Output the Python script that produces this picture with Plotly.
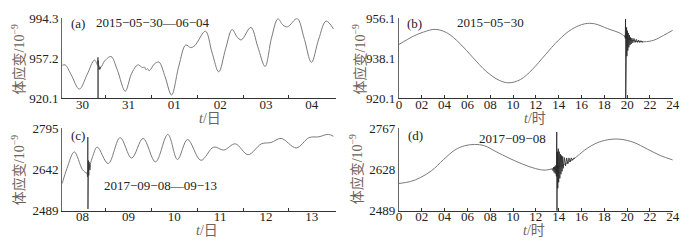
import plotly.graph_objects as go

# ---------------- data ----------------
# (a) 2015-05-30 — 06-04, x in days since 2015-05-30 00:00
a_day = [0.055, 0.12, 0.25, 0.43, 0.60, 0.76, 0.84, 0.90, 0.98, 1.12, 1.26, 1.43, 1.56, 1.67,
         1.72, 1.77, 1.81, 1.85, 1.88, 1.92, 1.95, 1.99, 2.03, 2.10, 2.17, 2.30, 2.44, 2.60,
         2.75, 2.86, 2.95, 3.18, 3.32, 3.47, 3.62, 3.76, 3.87, 3.96, 4.17, 4.32, 4.48, 4.62,
         4.76, 4.87, 4.97, 5.18, 5.33, 5.49, 5.65, 5.81, 5.97]
a_val = [950.5, 951.0, 942.0, 928.5, 942.0, 955.5, 950.0, 949.0, 954.5, 958.8, 946.0, 926.5, 942.0, 950.0,
         951.0, 949.5, 948.5, 949.0, 946.5, 947.5, 945.5, 947.0, 950.0, 953.0, 953.5, 940.0, 923.0, 950.0,
         969.5, 967.0, 969.0, 982.3, 963.0, 944.5, 966.0, 983.8, 977.0, 974.2, 985.8, 968.0, 949.5, 976.0,
         993.8, 988.0, 986.4, 994.0, 976.0, 953.3, 975.0, 991.7, 984.4]
a_qday = [0.832, 0.836, 0.838, 0.840, 0.842, 0.845, 0.850, 0.855, 0.860, 0.870, 0.880, 0.890, 0.900]
a_qval = [951.5, 958.0, 920.1, 955.0, 944.0, 951.0, 945.0, 949.0, 946.5, 948.5, 947.0, 948.8, 949.0]
a_ticks = ["30", "31", "01", "02", "03", "04"]

# (b) 2015-05-30, x in hours
b_hour = [0.0, 1.3, 2.16, 3.17, 4.18, 5.33, 6.48, 7.64, 8.79, 9.65, 10.66, 11.67, 12.82, 13.98,
          15.13, 16.28, 17.15, 18.3, 19.45, 19.88, 20.5, 21.47, 22.33, 23.2, 24.0]
b_val = [944.3, 948.1, 949.9, 951.1, 949.6, 944.8, 938.4, 932.2, 928.1, 927.0, 928.5, 932.9, 939.6, 946.2,
         951.1, 953.6, 953.6, 951.4, 949.2, 947.5, 946.0, 945.5, 946.2, 948.4, 950.7]
b_qhour = [19.80, 19.84, 19.86, 19.875, 19.89, 19.92, 19.95, 19.98, 20.02, 20.06, 20.10, 20.15, 20.20,
           20.25, 20.30, 20.35, 20.42, 20.50, 20.60, 20.70, 20.80, 20.90, 21.00, 21.10, 21.20, 21.30, 21.40]
b_qval = [948.5, 947.0, 955.8, 920.1, 953.5, 936.0, 952.0, 939.0, 950.5, 941.5, 949.5, 943.0, 948.5,
          944.0, 947.5, 944.5, 947.2, 945.0, 947.0, 945.2, 946.6, 945.2, 946.3, 945.2, 946.0, 945.3, 945.6]
b_ticks = ["0", "02", "04", "06", "08", "10", "12", "14", "16", "18", "20", "22", "24"]

# (c) 2017-09-08 — 09-13, x in days since 2017-09-08 00:00
c_day = [0.055, 0.16, 0.32, 0.50, 0.59, 0.62, 0.72, 0.82, 1.06, 1.32, 1.57, 1.82, 2.09, 2.36, 2.57,
         2.79, 3.08, 3.36, 3.58, 3.83, 4.11, 4.40, 4.61, 4.83, 5.16, 5.44, 5.65, 5.86, 5.97]
c_val = [2590, 2646, 2707, 2641, 2629, 2635, 2690, 2725, 2664, 2760, 2684, 2757, 2670, 2772, 2679,
         2753, 2676, 2725, 2714, 2737, 2697, 2737, 2742, 2757, 2722, 2760, 2763, 2772, 2765]
c_qday = [0.600, 0.610, 0.615, 0.618, 0.622, 0.626, 0.630, 0.635, 0.640, 0.645, 0.650, 0.660, 0.670]
c_qval = [2630, 2615, 2762, 2496, 2680, 2612, 2675, 2620, 2670, 2630, 2665, 2640, 2660]
c_ticks = ["08", "09", "10", "11", "12", "13"]

# (d) 2017-09-08, x in hours
d_hour = [0.0, 1.0, 1.87, 2.88, 3.89, 4.9, 5.76, 6.63, 7.49, 8.5, 9.65, 10.81, 11.96, 12.82, 13.4,
          13.83, 14.5, 15.42, 16.28, 17.44, 18.59, 19.45, 20.6, 21.76, 22.91, 24.0]
d_val = [2580.9, 2587.5, 2600.6, 2624.6, 2660.7, 2693.5, 2707.9, 2712.2, 2707.9, 2688.2, 2666.2, 2646.5,
         2631.1, 2625.9, 2630.1, 2635, 2645, 2666.2, 2693.5, 2718.8, 2729.6, 2729.6, 2718.8, 2696.8,
         2675.1, 2660]
d_qhour = [13.40, 13.50, 13.55, 13.60, 13.65, 13.70, 13.75, 13.80, 13.83, 13.85, 13.88, 13.92, 13.96,
           14.00, 14.05, 14.10, 14.15, 14.20, 14.25, 14.30, 14.35, 14.40, 14.50, 14.60, 14.70, 14.80,
           14.90, 15.00, 15.10, 15.20, 15.30, 15.42]
d_qval = [2630, 2624, 2636, 2618, 2638, 2614, 2642, 2605, 2754, 2489, 2688, 2565, 2698,
          2585, 2688, 2598, 2680, 2612, 2675, 2622, 2672, 2632, 2668, 2640, 2667, 2647,
          2667, 2653, 2667, 2659, 2666, 2666]

# y ranges (min, max) per panel
a_range = [920.1, 994.3]
b_range = [920.1, 956.1]
c_range = [2489, 2795]
d_range = [2489, 2767]

# ---------------- figure ----------------
W, H = 699, 247
SERIF = "Liberation Serif, Times New Roman, Noto Sans CJK SC, serif"
GRAY = "#7a7a7a"
TXT = "#222222"
TITLE = "#6e6259"

fig = go.Figure()

def add(x, y, xa, ya, color, width, shape):
    fig.add_trace(go.Scatter(x=x, y=y, mode="lines", xaxis=xa, yaxis=ya,
                             line=dict(color=color, width=width, shape=shape,
                                       smoothing=1.0 if shape == "spline" else None),
                             showlegend=False, hoverinfo="skip"))

add(a_day, a_val, "x", "y", GRAY, 1, "spline")
add(a_qday, a_qval, "x", "y", "#333333", 0.8, "linear")
add(b_hour, b_val, "x2", "y2", GRAY, 1, "spline")
add(b_qhour, b_qval, "x2", "y2", "#222222", 0.8, "linear")
add(c_day, c_val, "x3", "y3", GRAY, 1, "spline")
add(c_qday, c_qval, "x3", "y3", "#333333", 0.8, "linear")
add(d_hour, d_val, "x4", "y4", GRAY, 1, "spline")
add(d_qhour, d_qval, "x4", "y4", "#222222", 0.8, "linear")

def px_dom(p0, p1, total):
    return [p0 / total, p1 / total]

def ydom(top, bottom):
    return [1 - bottom / H, 1 - top / H]

xl_dom = px_dom(60, 338, W)
xr_dom = px_dom(401.7, 679.5, W)
yt_dom = ydom(12, 97)
yb_dom = ydom(129, 217)

tickfont = dict(family=SERIF, size=13, color=TXT)

def day_axis(dom, labels, anchor):
    return dict(domain=dom, range=[0.055, 6.03], anchor=anchor, showgrid=False, zeroline=False,
                showline=True, linecolor="#333333", linewidth=1,
                tickmode="array", tickvals=[i + 0.5 for i in range(len(labels))], ticktext=labels,
                ticks="", tickfont=tickfont, ticklabelstandoff=-6,
                minor=dict(tickmode="array", tickvals=[1, 2, 3, 4, 5], ticks="inside",
                           ticklen=3, tickcolor="#333333", tickwidth=1))

def hour_axis(dom, anchor):
    return dict(domain=dom, range=[0, 24], anchor=anchor, showgrid=False, zeroline=False,
                showline=True, linecolor="#333333", linewidth=1,
                tickmode="array", tickvals=list(range(0, 25, 2)), ticktext=b_ticks,
                ticks="inside", ticklen=3, tickcolor="#333333", tickfont=tickfont,
                ticklabelstandoff=-6)

def y_axis(dom, rng, fmt, anchor):
    lo, hi = rng
    mid = (lo + hi) / 2
    return dict(domain=dom, range=[lo, hi], anchor=anchor, showgrid=False, zeroline=False,
                showline=True, linecolor="#666666", linewidth=1.2,
                tickmode="array", tickvals=[lo, mid, hi],
                ticktext=[fmt.format(lo), fmt.format(mid), fmt.format(hi)],
                ticks="", tickfont=tickfont)

fig.update_layout(
    width=W, height=H, margin=dict(l=0, r=0, t=0, b=0),
    paper_bgcolor="white", plot_bgcolor="white",
    xaxis=day_axis(xl_dom, a_ticks, "y"),
    yaxis=y_axis(yt_dom, a_range, "{:.1f}", "x"),
    xaxis2=hour_axis(xr_dom, "y2"),
    yaxis2=y_axis(yt_dom, b_range, "{:.1f}", "x2"),
    xaxis3=day_axis(xl_dom, c_ticks, "y3"),
    yaxis3=y_axis(yb_dom, c_range, "{:.0f}", "x3"),
    xaxis4=hour_axis(xr_dom, "y4"),
    yaxis4=y_axis(yb_dom, d_range, "{:.0f}", "x4"),
)

def ann(text, px, py, size=13, color=TXT, angle=0, xanchor="center"):
    fig.add_annotation(text=text, x=px / W, y=1 - py / H, xref="paper", yref="paper",
                       showarrow=False, textangle=angle, xanchor=xanchor, yanchor="middle",
                       font=dict(family=SERIF, size=size, color=color))

ylab = "体应变/10<sup>−9</sup>"
ann(ylab, 15, 56, 14, TITLE, -90)
ann(ylab, 361, 56, 14, TITLE, -90)
ann(ylab, 16, 174, 14, TITLE, -90)
ann(ylab, 359, 173, 14, TITLE, -90)

ann("<i>t</i>/日", 210, 119, 14, TITLE)
ann("<i>t</i>/时", 540, 119, 14, TITLE)
ann("<i>t</i>/日", 207, 238, 14, TITLE)
ann("<i>t</i>/时", 539, 238, 14, TITLE)

ann("(a)", 67, 18, 13, TXT, xanchor="left")
ann("(b)", 408, 18, 13, TXT, xanchor="left")
ann("(c)", 67, 137, 13, TXT, xanchor="left")
ann("(d)", 409, 137, 13, TXT, xanchor="left")

ann("2015−05−30—06−04", 152, 16, 13, TXT)
ann("2015−05−30", 495, 16, 13, TXT)
ann("2017−09−08—09−13", 160, 190, 13, TXT)
ann("2017−09−08", 517, 140, 13, TXT)

fig.write_html("out.html", config={"displayModeBar": False},
               post_script="document.body.style.margin='0';document.body.style.overflow='hidden';")
